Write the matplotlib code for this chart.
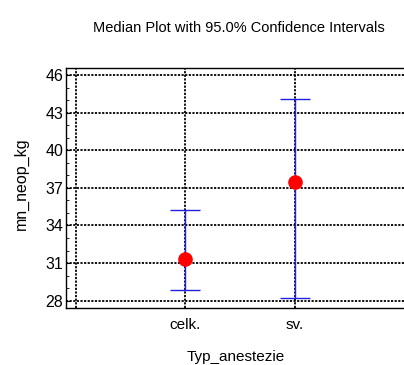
import numpy as np
import matplotlib
matplotlib.use('Agg')
import matplotlib.pyplot as plt
from matplotlib.ticker import MultipleLocator

plt.rcParams['font.family'] = ['Liberation Sans', 'DejaVu Sans']

#%% Data
groups  = ['celk.', 'sv.']
medians = [31.3, 37.47]
lower   = [28.85, 28.2]
upper   = [35.23, 44.1]

#%% Plot
fig = plt.figure(figsize=(4.04, 3.65), dpi=100)
ax  = fig.add_axes([66/404, 1 - 308/365, 1 - 66/404 + 0.002, (308 - 68)/365])

xpos = np.arange(1, len(groups) + 1)
med  = np.array(medians)
yerr = np.vstack([med - np.array(lower), np.array(upper) - med])

ax.errorbar(xpos, med, yerr=yerr, fmt='none', ecolor='#2020e0', elinewidth=1.0,
            capsize=11, capthick=1.0, zorder=3)
ax.plot(xpos, med, 'o', color='#ff0000', markersize=9.5, zorder=4)

ax.set_xlim(-0.087, 3.0)
ax.set_ylim(27.42, 46.56)
ax.set_xticks([0, 1, 2, 3])
ax.set_xticklabels(['', 'celk.', 'sv.', ''])
ax.set_yticks(np.arange(28, 47, 3))
ax.yaxis.set_minor_locator(MultipleLocator(1))

ax.grid(True, which='major', color='black', linestyle=(0, (1.2, 0.8)), linewidth=1.3)
ax.tick_params(axis='x', length=0, labelsize=11, pad=7)
ax.tick_params(axis='y', which='major', direction='in', length=3, labelsize=11.5, pad=2)
ax.tick_params(axis='y', which='minor', direction='in', length=2)
ax.spines['right'].set_visible(False)
for s in ['left', 'top', 'bottom']:
    ax.spines[s].set_linewidth(1.0)

ax.set_xlabel('Typ_anestezie', fontsize=11, labelpad=13)
ax.set_ylabel('mn_neop_kg', fontsize=11.5)
ax.yaxis.set_label_coords(-(66 - 29) / 338, (308 - 183.5) / 240)
fig.text(239/404, 1 - 28/365, 'Median Plot with 95.0% Confidence Intervals',
         ha='center', va='center', fontsize=10.5)

fig.savefig('out.png', dpi=100)
